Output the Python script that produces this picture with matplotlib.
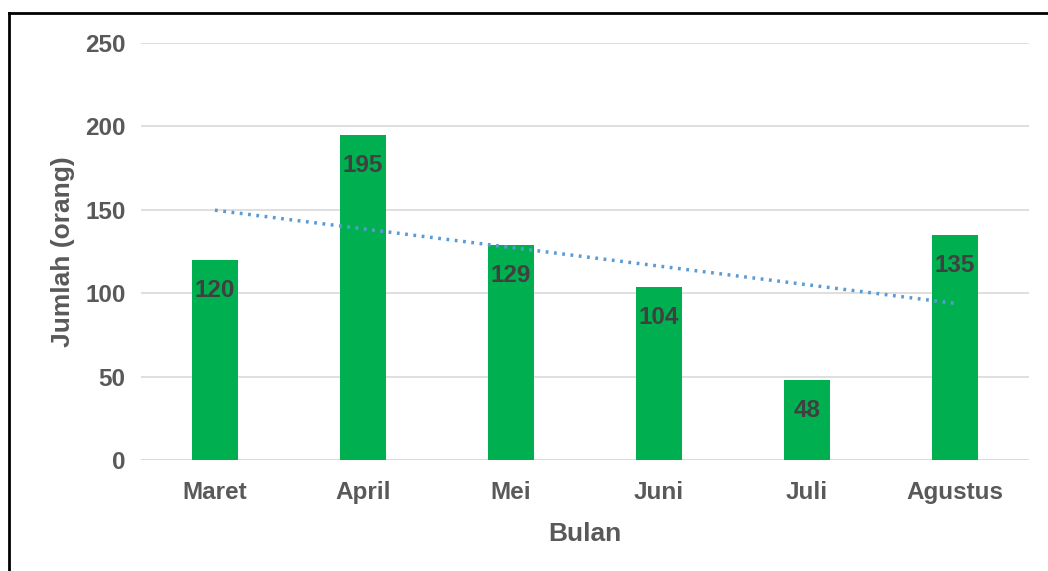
import numpy as np
import matplotlib.pyplot as plt
from matplotlib.lines import Line2D

plt.rcParams['font.family'] = ['Liberation Sans', 'DejaVu Sans']

bulan = ["Maret", "April", "Mei", "Juni", "Juli", "Agustus"]
jumlah = [120, 195, 129, 104, 48, 135]

x = np.arange(len(bulan))

fig = plt.figure(figsize=(10.48, 5.71), dpi=100)
ax = fig.add_axes([0.1345, 0.1944, 0.8475, 0.7303])

bars = ax.bar(x, jumlah, width=0.31, color="#00B050", zorder=2)
for b, v in zip(bars, jumlah):
    ax.text(b.get_x() + b.get_width() / 2, v - 11.5, str(v), ha="center", va="top",
            fontsize=17.5, fontweight="bold", color="#404040", zorder=3)

# linear trendline
k, c = np.polyfit(x + 1, jumlah, 1)
ax.plot(x, k * (x + 1) + c, linestyle=(0, (0.8, 1.6)), color="#5B9BD5",
        linewidth=2.5, zorder=4)

ax.set_xlim(-0.5, len(bulan) - 0.5)
ax.set_ylim(0, 250)
ax.set_yticks(np.arange(0, 251, 50))
ax.set_xticks(x)
ax.set_xticklabels(bulan)
ax.grid(axis="y", color="#D9D9D9", linewidth=1.2, zorder=0)
for s in ax.spines.values():
    s.set_visible(False)
ax.axhline(0, color="#D9D9D9", linewidth=1.2, zorder=1)
ax.tick_params(length=0, labelsize=17.5, labelcolor="#595959")
ax.tick_params(axis="x", pad=15)
ax.tick_params(axis="y", pad=11)
for t in ax.get_xticklabels() + ax.get_yticklabels():
    t.set_fontweight("bold")

ax.set_xlabel("Bulan", fontsize=19, fontweight="bold", color="#595959", labelpad=13)
ax.set_ylabel("Jumlah (orang)", fontsize=19, fontweight="bold", color="#595959", labelpad=7)

# outer frame
fig.add_artist(Line2D([9 / 1048, 9 / 1048], [0, 1 - 13 / 571], color="black", linewidth=2,
                      transform=fig.transFigure))
fig.add_artist(Line2D([9 / 1048, 1], [1 - 13 / 571, 1 - 13 / 571], color="black", linewidth=2,
                      transform=fig.transFigure))

fig.savefig("out.png", dpi=100)
